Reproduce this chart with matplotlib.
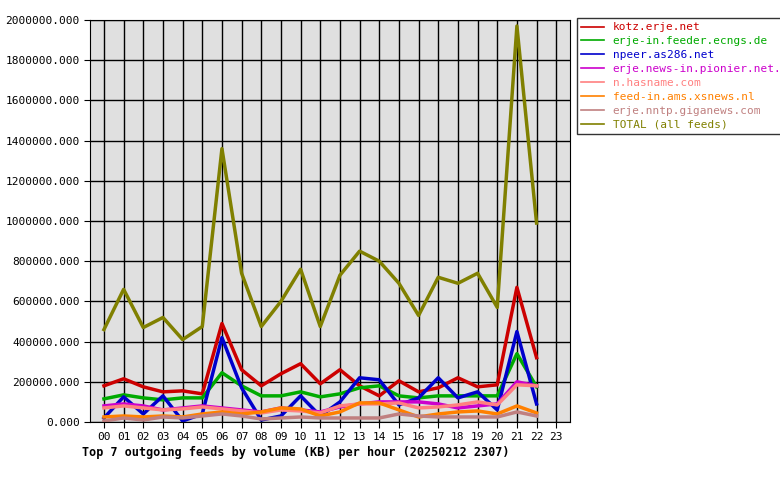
import matplotlib
matplotlib.use("Agg")
import matplotlib.pyplot as plt

hours = [f"{h:02d}" for h in range(24)]
names = ["kotz.erje.net", "erje-in.feeder.ecngs.de", "npeer.as286.net",
         "erje.news-in.pionier.net.pl", "n.hasname.com", "feed-in.ams.xsnews.nl",
         "erje.nntp.giganews.com", "TOTAL (all feeds)"]
colors = ["#cc0000", "#00aa00", "#0000cc", "#cc00cc", "#ff8080", "#ff8000", "#c08080", "#808000"]
kotz = [180,215,175,150,155,140,490,260,180,240,290,190,260,180,130,205,150,170,220,175,185,670,320]
ecngs = [115,135,120,110,120,120,245,180,130,130,150,125,140,170,180,130,120,130,130,130,130,340,175]
npeer = [20,125,40,130,5,40,420,170,10,30,130,30,100,220,210,85,120,220,120,150,60,450,90]
pionier = [80,90,80,60,70,80,70,60,50,70,60,50,75,90,100,100,100,90,70,80,90,200,180]
hasname = [70,80,70,60,65,75,65,55,45,60,55,45,80,90,90,95,70,75,85,100,85,185,180]
xsnews = [25,30,25,30,25,40,50,40,50,70,65,30,50,95,95,60,25,40,50,55,40,80,45]
giganews = [5,20,10,25,20,30,40,30,15,20,25,20,20,20,20,40,30,25,25,25,25,50,30]
total = [460,660,470,520,410,475,1360,740,475,600,760,475,730,850,800,690,530,720,690,740,570,1970,990]
series = [kotz, ecngs, npeer, pionier, hasname, xsnews, giganews, total]

plt.rcParams['font.family'] = ['DejaVu Sans Mono']
fig = plt.figure(figsize=(7.8, 4.8), dpi=100)
ax = fig.add_axes([90/780, 1-422/480, 480/780, 402/480])
ax.set_facecolor("#e0e0e0")
for s, c, n in zip(series, colors, names):
    ax.plot(range(len(s)), [v*1000 for v in s], color=c, lw=2.5, label=n)
ax.set_xlim(-0.71, 23.7)
ax.set_ylim(0, 2000000)
ax.set_xticks(range(24))
ax.set_xticklabels(hours, fontsize=8)
ax.set_yticks(range(0, 2000001, 200000))
ax.set_yticklabels([f"{v:.3f}" for v in range(0, 2000001, 200000)], fontsize=8)
ax.grid(True, color="black", lw=1)
ax.set_axisbelow(True)
ax.tick_params(length=4)
fig.text(82/780, 1-452/480, "Top 7 outgoing feeds by volume (KB) per hour (20250212 2307)",
         fontsize=8.5, fontweight="bold", ha="left", va="center")
leg = fig.legend(loc="upper left", bbox_to_anchor=(577/780, 1-18/480), fontsize=8,
                 frameon=True, fancybox=False, edgecolor="black", handlelength=2,
                 labelspacing=0.35, borderaxespad=0)
for t, c in zip(leg.get_texts(), colors):
    t.set_color(c)
for l in leg.get_lines():
    l.set_linewidth(1.2)
fig.savefig("out.png", dpi=100, facecolor="white")
